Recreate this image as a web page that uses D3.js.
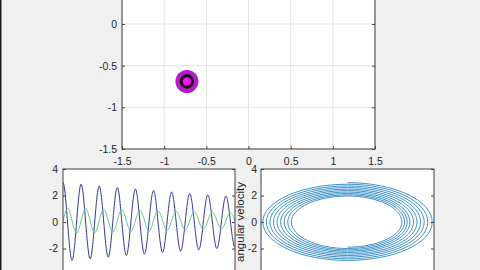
<!DOCTYPE html>
<html>
<head>
<meta charset="utf-8">
<script src="https://cdn.jsdelivr.net/npm/d3@7"></script>
<style>
  html, body { margin: 0; padding: 0; background: #f0f0f0; overflow: hidden; }
  svg { display: block; font-family: "Liberation Sans", Arial, sans-serif; }
</style>
</head>
<body>
<div id="chart"></div>
<script>
// pendulum position (top panel)
const bobX = [-0.73];
const bobY = [-0.69];
const topTicks = [-1.5, -1, -0.5, 0, 0.5, 1, 1.5];
const topYLabels = [-1.5, -1, -0.5, 0]; // the rest sit above the window

// first and last samples fall just outside the visible time window
const time = [-0.5, 0, 0.5, 1, 1.5, 2, 2.5, 3, 3.5, 4, 4.5, 5, 5.5, 6, 6.5, 7, 7.5, 8, 8.5, 9, 9.5,
    10, 10.5, 11, 11.5, 12, 12.5, 13, 13.5, 14, 14.5, 15, 15.5, 16, 16.5, 17, 17.5, 18, 18.5, 19, 19.5];
const angle = [-0.87, 0.1, 1.05, 0.1, -0.85, 0.1, 1.0, 0.1, -0.81, 0.1, 0.96, 0.1, -0.77, 0.1, 0.92, 0.1, -0.73,
    0.1, 0.88, 0.1, -0.69, 0.1, 0.84, 0.1, -0.65, 0.1, 0.8, 0.1, -0.61, 0.1, 0.77, 0.1, -0.57,
    0.1, 0.74, 0.1, -0.53, 0.1, 0.71, 0.1, -0.49];
const angVel = [0, 2.97, 0, -2.9, 0, 2.85, 0, -2.78, 0, 2.72, 0, -2.65, 0, 2.6, 0, -2.53, 0,
    2.48, 0, -2.42, 0, 2.37, 0, -2.3, 0, 2.26, 0, -2.2, 0, 2.15, 0, -2.1, 0,
    2.05, 0, -2.0, 0, 1.96, 0, -1.9, 0];
const velTicks = [-4, -2, 0, 2, 4];
const velLabels = [-2, 0, 2, 4];

const width = 480, height = 270;
const fontSize = "10.5px";
const axisColor = "#404040";

const svg = d3.select("#chart").append("svg").attr("width", width).attr("height", height);
svg.append("rect").attr("width", width).attr("height", height).attr("fill", "#f0f0f0");
svg.append("rect").attr("width", 1.5).attr("height", height).attr("fill", "#1a1a1a");

// style an axis group the way matlab does it
function styleAxis(g) {
    g.select(".domain").remove();
    g.attr("font-size", fontSize).attr("font-family", null);
    g.selectAll(".tick line").attr("stroke", axisColor);
    g.selectAll(".tick text").attr("fill", "#262626");
}

function fmt(d) { return String(d); }

// ---------- top panel ----------
const xTop = d3.scaleLinear().domain([-1.5, 1.5]).range([122, 375]);
const yTop = d3.scaleLinear().domain([-1.5, 1.5]).range([149, -101]);

const topPanel = svg.append("g");
topPanel.append("rect")
    .attr("x", xTop(-1.5)).attr("y", yTop(1.5))
    .attr("width", xTop(1.5) - xTop(-1.5)).attr("height", yTop(-1.5) - yTop(1.5))
    .attr("fill", "white");

// grid
topPanel.selectAll(".vgrid").data(topTicks).enter().append("line")
    .attr("x1", d => xTop(d)).attr("x2", d => xTop(d))
    .attr("y1", yTop(1.5)).attr("y2", yTop(-1.5))
    .attr("stroke", "#e3e3e3");
topPanel.selectAll(".hgrid").data(topTicks).enter().append("line")
    .attr("x1", xTop(-1.5)).attr("x2", xTop(1.5))
    .attr("y1", d => yTop(d)).attr("y2", d => yTop(d))
    .attr("stroke", "#e3e3e3");

topPanel.append("g").attr("transform", `translate(0,${yTop(-1.5)})`)
    .call(d3.axisBottom(xTop).tickValues(topTicks).tickFormat(fmt).tickSizeInner(-3).tickSizeOuter(0).tickPadding(8.5))
    .call(styleAxis);
topPanel.append("g").attr("transform", `translate(${xTop(-1.5)},0)`)
    .call(d3.axisLeft(yTop).tickValues(topYLabels).tickFormat(fmt).tickSizeInner(-3).tickSizeOuter(0).tickPadding(5))
    .call(styleAxis);
topPanel.append("g").attr("transform", `translate(${xTop(1.5)},0)`)
    .call(d3.axisLeft(yTop).tickValues(topYLabels).tickFormat("").tickSizeInner(3).tickSizeOuter(0))
    .call(styleAxis);

topPanel.append("rect")
    .attr("x", xTop(-1.5)).attr("y", yTop(1.5))
    .attr("width", xTop(1.5) - xTop(-1.5)).attr("height", yTop(-1.5) - yTop(1.5))
    .attr("fill", "none").attr("stroke", axisColor);

// pendulum bob
const bob = topPanel.selectAll(".bob").data(d3.range(bobX.length)).enter().append("g")
    .attr("transform", i => `translate(${xTop(bobX[i])},${yTop(bobY[i])})`);
bob.append("circle").attr("r", 11.5).attr("fill", "#b21ec4");
bob.append("circle").attr("r", 7.2).attr("fill", "#1c0a20");
bob.append("circle").attr("r", 4.2).attr("fill", "#f014f0");

// ---------- bottom panels ----------
const yVel = d3.scaleLinear().domain([-4, 4]).range([275, 169]);
const xTime = d3.scaleLinear().domain([0, 19]).range([63, 235]);
const xAng = d3.scaleLinear().domain([-0.87, 1.07]).range([261, 434]);

function panel(xs, id, pad) {
    const [x0, x1] = xs.range();
    const [y0, y1] = [yVel.range()[1], yVel.range()[0]];
    const g = svg.append("g");
    g.append("rect").attr("x", x0).attr("y", y0).attr("width", x1 - x0).attr("height", y1 - y0)
        .attr("fill", "white");
    g.append("clipPath").attr("id", id).append("rect")
        .attr("x", x0).attr("y", y0).attr("width", x1 - x0).attr("height", y1 - y0);
    g.append("g").attr("transform", `translate(${x0},0)`)
        .call(d3.axisLeft(yVel).tickValues(velLabels).tickFormat(fmt).tickSizeInner(-3).tickSizeOuter(0).tickPadding(pad))
        .call(styleAxis);
    g.append("g").attr("transform", `translate(${x1},0)`)
        .call(d3.axisLeft(yVel).tickValues(velTicks).tickFormat("").tickSizeInner(3).tickSizeOuter(0))
        .call(styleAxis);
    const plot = g.append("g").attr("clip-path", `url(#${id})`);
    g.append("rect").attr("x", x0).attr("y", y0).attr("width", x1 - x0).attr("height", y1 - y0)
        .attr("fill", "none").attr("stroke", axisColor);
    return plot;
}

const idx = d3.range(time.length);

// time series
const leftPlot = panel(xTime, "clipLeft", 5);
leftPlot.append("path").datum(idx)
    .attr("fill", "none").attr("stroke", "#33339a").attr("stroke-width", 1)
    .attr("d", d3.line().x(i => xTime(time[i])).y(i => yVel(angVel[i])).curve(d3.curveNatural));
leftPlot.append("path").datum(idx)
    .attr("fill", "none").attr("stroke", "#62cc84").attr("stroke-width", 1)
    .attr("d", d3.line().x(i => xTime(time[i])).y(i => yVel(angle[i])).curve(d3.curveNatural));

// phase portrait: open cardinal (negative tension) keeps each quarter close to an
// ellipse arc and only draws between the second and the second-to-last sample
const rightPlot = panel(xAng, "clipRight", 4);
rightPlot.append("path").datum(idx)
    .attr("fill", "none").attr("stroke", "#2b86c2").attr("stroke-width", 0.9)
    .attr("d", d3.line().x(i => xAng(angle[i])).y(i => yVel(angVel[i])).curve(d3.curveCardinalOpen.tension(-0.65)));

svg.append("text")
    .attr("transform", `translate(240,${yVel(0)}) rotate(-90)`)
    .attr("text-anchor", "middle").attr("dy", "0.35em")
    .attr("font-size", "11.5px").attr("fill", "#262626")
    .text("angular velocity");
</script>
</body>
</html>
